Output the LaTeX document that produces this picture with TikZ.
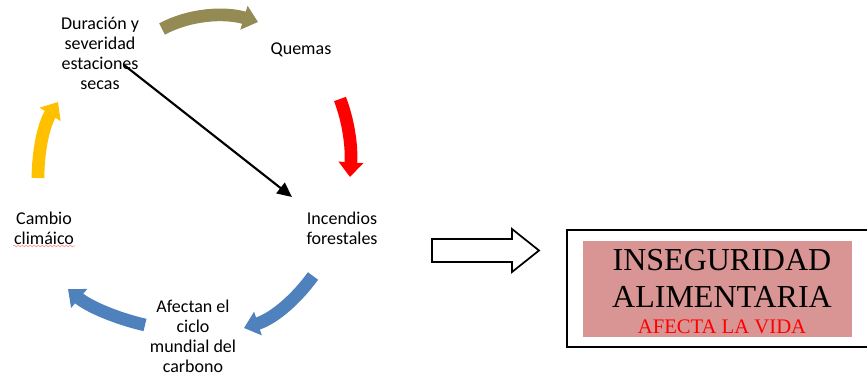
\documentclass[tikz,border=0pt]{standalone}
\usepackage{fontspec}
\setmainfont{Carlito}
\newfontfamily\timesf{Liberation Serif}
\usetikzlibrary{arrows.meta,decorations.pathmorphing}
\definecolor{olivea}{HTML}{948A54}
\definecolor{reda}{HTML}{FF0000}
\definecolor{yela}{HTML}{FFC000}
\definecolor{bluea}{HTML}{4F81BD}
\definecolor{pinkbox}{HTML}{D99594}
\begin{document}
\begin{tikzpicture}[x=0.75pt,y=-0.75pt,
 lbl/.style={align=center,font=\fontsize{13.5}{15}\selectfont,inner sep=0pt},
 cyc/.style={line width=9.5pt,-{Triangle[width=18pt,length=11pt]}},
 big/.style={inner sep=0pt,font=\timesf\fontsize{24}{24}\selectfont},
]
\useasboundingbox (0,0) rectangle (867,374);
% labels
\node[lbl] (dur) at (100,53) {Duración y\\severidad\\estaciones\\secas};
\node[lbl] (que) at (301,50) {Quemas};
\node[lbl] (inc) at (342,228) {Incendios\\forestales};
\node[lbl] (cam) at (44,228) {Cambio\\climáico};
\node[lbl] (afe) at (193,336) {Afectan el\\ciclo\\mundial del\\carbono};
\draw[pink!80!red,line width=0.5pt,decorate,decoration={snake,amplitude=0.6pt,segment length=3pt}] (13,246) -- (75,246);
% cycle arrows
\coordinate (o1) at (162,29); \coordinate (o2) at (258,22);
\draw[cyc,olivea] (o1) .. controls (190,14) and (225,12) .. (o2);
\coordinate (r1) at (340,99); \coordinate (r2) at (350,177);
\draw[cyc,reda] (r1) .. controls (348,120) and (352,145) .. (r2);
\coordinate (b1) at (313,276); \coordinate (b2) at (244,328);
\draw[cyc,bluea] (b1) .. controls (297,298) and (275,318) .. (b2);
\coordinate (c1) at (145,325); \coordinate (c2) at (68,289);
\draw[cyc,bluea] (c1) .. controls (115,318) and (88,306) .. (c2);
\coordinate (y1) at (38,178); \coordinate (y2) at (58,102);
\draw[cyc,yela] (y1) .. controls (38,150) and (44,124) .. (y2);
% black arrow
\coordinate (bs) at (124,65); \coordinate (bt) at (292,197);
\draw[line width=1.6pt,-{Triangle[width=10pt,length=11pt]}] (bs) -- (bt);
% block arrow
\draw[line width=1.3pt,fill=white] (432,239) -- (512,239) -- (512,229) -- (539,250.5) -- (512,272) -- (512,262) -- (432,262) -- cycle;
% box
\draw[line width=1.6pt] (870,230) -- (567,230) -- (567,347) -- (870,347);
\fill[pinkbox] (583,241) rectangle (852,337);
\node[big] (ins) at (722,260) {INSEGURIDAD};
\node[big] (ali) at (722,297) {ALIMENTARIA};
\node[inner sep=0pt,font=\timesf\fontsize{15.5}{15.5}\selectfont,text=reda] (vid) at (722,327) {AFECTA LA VIDA};
\end{tikzpicture}
\end{document}
